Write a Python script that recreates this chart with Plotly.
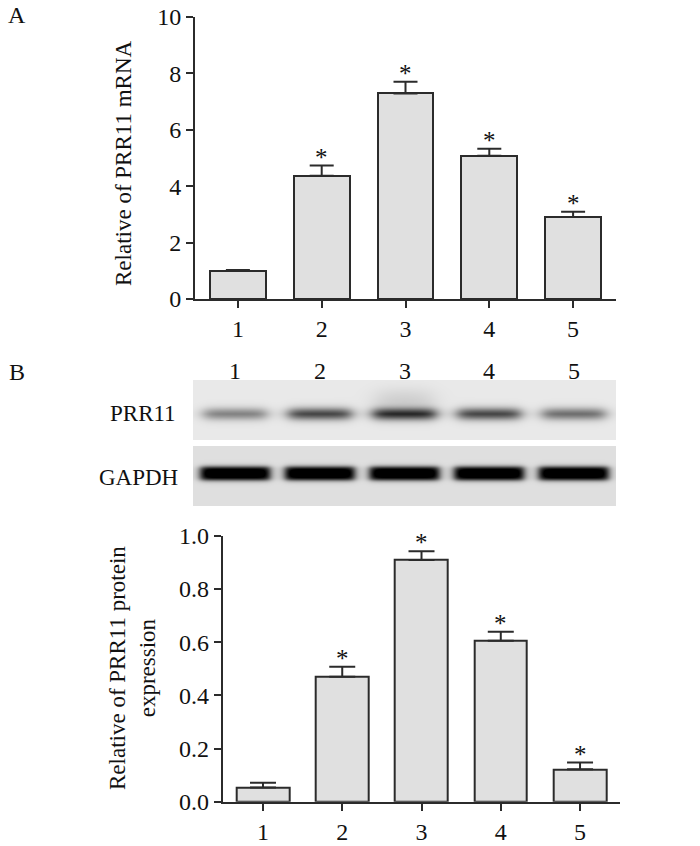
import numpy as np
import plotly.graph_objects as go

# ---------------- data ----------------
groups = ["1", "2", "3", "4", "5"]
lanes = [1, 2, 3, 4, 5]

mrna_mean = [1.00, 4.37, 7.29, 5.08, 2.91]
mrna_err = [0.03, 0.36, 0.41, 0.25, 0.18]
mrna_sig = ["", "*", "*", "*", "*"]

protein_mean = [0.053, 0.470, 0.909, 0.605, 0.122]
protein_err = [0.018, 0.037, 0.033, 0.034, 0.025]
protein_sig = ["", "*", "*", "*", "*"]

prr11_band = [0.50, 0.80, 0.95, 0.80, 0.60]   # relative band darkness
gapdh_band = [1.00, 1.00, 1.00, 1.00, 1.00]

y1_ticks = [0, 2, 4, 6, 8, 10]
y2_ticks = [0.0, 0.2, 0.4, 0.6, 0.8, 1.0]

# ---------------- styling ----------------
W, H = 700, 846
FONT = "Liberation Serif, Times New Roman, serif"
INK = "#2b2b2b"
TXT = "#111111"
BAR_FILL = "#e0e0e0"
TICK_SIZE = 24
TITLE_SIZE = 23


def px_x(p):
    return p / W


def px_y(p):
    return 1 - p / H


# ---------------- blot image ----------------
nx, ny = 423, 126
xs = 0.5 + (np.arange(nx) + 0.5) / nx * 5.0
ys = np.arange(ny) + 0.5
X, Y = np.meshgrid(xs, ys)


def band(lane, cy, hw, hh, sx, sy):
    bx = 1.0 / (1.0 + np.exp((np.abs(X - lane) - hw) / sx))
    by = 1.0 / (1.0 + np.exp((np.abs(Y - cy) - hh) / sy))
    return bx * by


bg = np.where(Y < 60, 0.915, 0.875)
keep = np.ones_like(X)
for ln, d in zip(lanes, prr11_band):
    keep *= 1 - d * band(ln, 34, 0.37, 4.5, 0.05, 2.2)
# smear above the strongest PRR11 band
keep *= 1 - 0.12 * band(lanes[2], 20, 0.33, 9, 0.08, 4)
for ln, d in zip(lanes, gapdh_band):
    keep *= 1 - d * np.clip(1.15 * band(ln, 93.5, 0.41, 6.5, 0.03, 1.3), 0, 1)
img = bg * keep
gap = (Y > 59.5) & (Y < 66.5)
img = np.where(gap, np.nan, img)

fig = go.Figure()

# ---------------- panel A ----------------
fig.add_trace(go.Bar(
    x=lanes, y=mrna_mean, width=0.667,
    marker=dict(color=BAR_FILL, line=dict(color=INK, width=2)),
    error_y=dict(type="data", symmetric=False, array=mrna_err,
                 arrayminus=[0] * len(mrna_err), color=INK, thickness=2, width=12),
    xaxis="x", yaxis="y", hoverinfo="skip"))

# ---------------- panel B blot ----------------
fig.add_trace(go.Heatmap(
    x=xs, y=ys, z=img, zmin=0, zmax=1,
    colorscale=[[0, "#000000"], [1, "#ffffff"]], showscale=False,
    xaxis="x3", yaxis="y3", hoverinfo="skip"))

# ---------------- panel B bars ----------------
fig.add_trace(go.Bar(
    x=lanes, y=protein_mean, width=0.664,
    marker=dict(color=BAR_FILL, line=dict(color=INK, width=2)),
    error_y=dict(type="data", symmetric=False, array=protein_err,
                 arrayminus=[0] * len(protein_err), color=INK, thickness=2, width=13),
    xaxis="x2", yaxis="y2", hoverinfo="skip"))

axis_common = dict(showgrid=False, zeroline=False, showline=True, linecolor=INK,
                   linewidth=2, ticks="outside", ticklen=7, tickwidth=2,
                   automargin=False,
                   tickcolor=INK, tickfont=dict(family=FONT, size=TICK_SIZE, color=TXT))

fig.update_layout(
    template="none",
    width=W, height=H, margin=dict(l=0, r=0, t=0, b=0, pad=0),
    paper_bgcolor="white", plot_bgcolor="white", showlegend=False,
    font=dict(family=FONT, color=TXT),
    bargap=0,
    xaxis=dict(domain=[px_x(195), px_x(616)], range=[0.488, 5.512],
               tickvals=lanes, ticktext=groups, anchor="y", **axis_common),
    yaxis=dict(domain=[px_y(299), px_y(17)], range=[0, 10],
               tickvals=y1_ticks, anchor="x", **axis_common),
    xaxis2=dict(domain=[px_x(222.7), px_x(620)], range=[0.492, 5.504],
                tickvals=lanes, ticktext=groups, anchor="y2", **axis_common),
    yaxis2=dict(domain=[px_y(801.7), px_y(535.7)], range=[0, 1],
                tickvals=y2_ticks, tickformat=".1f", anchor="x2", **axis_common),
    xaxis3=dict(domain=[px_x(193), px_x(616)], range=[0.5, 5.5], visible=False,
                anchor="y3", automargin=False),
    yaxis3=dict(domain=[px_y(506), px_y(380)], range=[126, 0], visible=False,
                anchor="x3", automargin=False),
)


def label(text, x, y, size, **kw):
    d = dict(text=text, x=x, y=y, xref="paper", yref="paper", showarrow=False,
             xanchor="center", yanchor="middle",
             font=dict(size=size, family=FONT, color=TXT))
    d.update(kw)
    return d


annotations = [
    label("A", px_x(17), px_y(15), 24),
    label("B", px_x(17), px_y(372), 24),
    label("Relative of PRR11 mRNA", px_x(123), px_y(163), TITLE_SIZE, textangle=-90),
    label("Relative of PRR11 protein<br>expression", px_x(132), px_y(668), TITLE_SIZE,
          textangle=-90),
    label("PRR11", px_x(178), px_y(414), 23, xanchor="right"),
    label("GAPDH", px_x(180), px_y(477), 23, xanchor="right"),
]
for ln, g in zip(lanes, groups):
    annotations.append(dict(text=g, x=ln, xref="x3", y=px_y(371), yref="paper",
                            showarrow=False, xanchor="center", yanchor="middle",
                            font=dict(size=TICK_SIZE, family=FONT, color=TXT)))
# significance stars
for ln, m, e, s in zip(lanes, mrna_mean, mrna_err, mrna_sig):
    if s:
        annotations.append(dict(text=s, x=ln, y=m + e, xref="x", yref="y",
                                showarrow=False, xanchor="center", yanchor="bottom",
                                yshift=-7, font=dict(size=25, family=FONT, color=TXT)))
for ln, m, e, s in zip(lanes, protein_mean, protein_err, protein_sig):
    if s:
        annotations.append(dict(text=s, x=ln, y=m + e, xref="x2", yref="y2",
                                showarrow=False, xanchor="center", yanchor="bottom",
                                yshift=-7, font=dict(size=25, family=FONT, color=TXT)))
fig.update_layout(annotations=annotations)

fig.write_html("out.html", config={"displayModeBar": False},
               post_script="document.body.style.margin='0';")
